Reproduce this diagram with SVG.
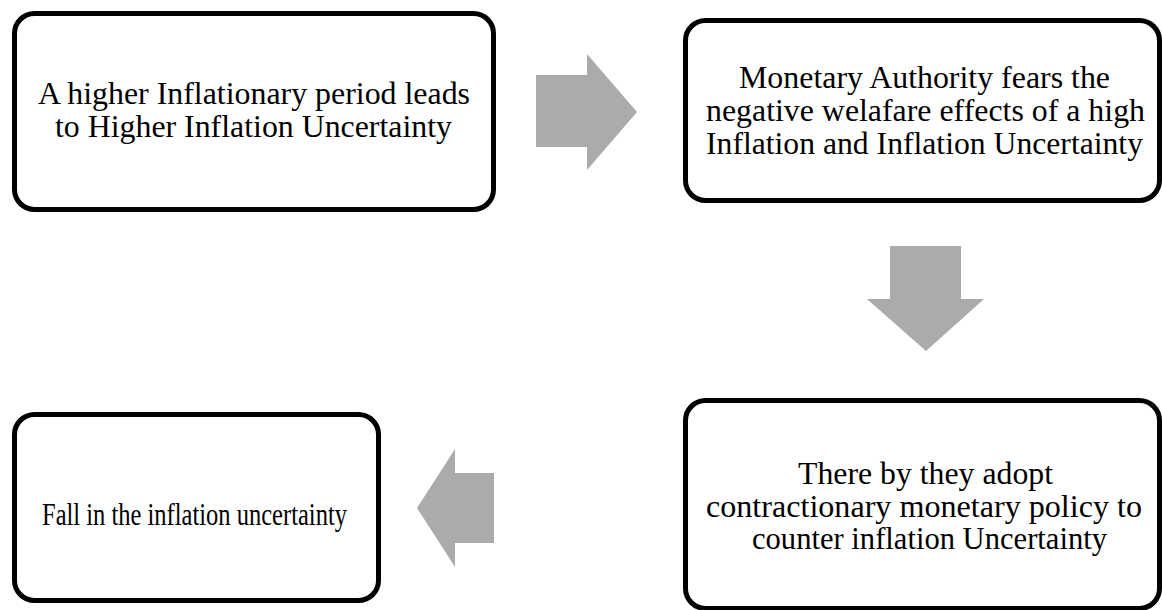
<svg xmlns="http://www.w3.org/2000/svg" width="1162" height="610" viewBox="0 0 1162 610">
  <style>
    .box { fill: #ffffff; stroke: #000000; stroke-width: 5; }
    .lbl { font-family: "Liberation Serif", "Times New Roman", serif; font-size: 31px; fill: #000000; text-anchor: middle; }
    .arrow { fill: #ababab; }
  </style>
  <rect width="1162" height="610" fill="#ffffff"/>

  <g id="connectors">
    <!-- right: step 1 to step 2 -->
    <polygon class="arrow" points="536,75 587,75 587,54 637,112 587,170 587,147 536,147"/>
    <!-- down: step 2 to step 3 -->
    <polygon class="arrow" points="890,246 961,246 961,299 984,299 926,351 867,299 890,299"/>
    <!-- left: step 3 to step 4 -->
    <polygon class="arrow" points="494,473 455,473 455,449 417,508 455,567 455,543 494,543"/>
  </g>

  <g id="step1">
    <rect class="box" x="14.5" y="13.5" width="479" height="196" rx="20" ry="20"/>
    <text class="lbl" x="254" y="104" textLength="432" lengthAdjust="spacingAndGlyphs">A higher Inflationary period leads</text>
    <text class="lbl" x="253.5" y="137" textLength="397" lengthAdjust="spacingAndGlyphs">to Higher Inflation Uncertainty</text>
  </g>

  <g id="step2">
    <rect class="box" x="685.5" y="20.5" width="474" height="180" rx="20" ry="20"/>
    <text class="lbl" x="924.5" y="88" textLength="371" lengthAdjust="spacingAndGlyphs">Monetary Authority fears the</text>
    <text class="lbl" x="925.5" y="121" textLength="439" lengthAdjust="spacingAndGlyphs">negative welafare effects of a high</text>
    <text class="lbl" x="924.5" y="154" textLength="437" lengthAdjust="spacingAndGlyphs">Inflation and Inflation Uncertainty</text>
  </g>

  <g id="step3">
    <rect class="box" x="685.5" y="400.5" width="474" height="208" rx="20" ry="20"/>
    <text class="lbl" x="925.5" y="484" textLength="255" lengthAdjust="spacingAndGlyphs">There by they adopt</text>
    <text class="lbl" x="924" y="517" textLength="436" lengthAdjust="spacingAndGlyphs">contractionary monetary policy to</text>
    <text class="lbl" x="929.5" y="549" textLength="355" lengthAdjust="spacingAndGlyphs">counter inflation Uncertainty</text>
  </g>

  <g id="step4">
    <rect class="box" x="14.5" y="414.5" width="364" height="186" rx="20" ry="20"/>
    <text class="lbl" x="194.5" y="525" textLength="305" lengthAdjust="spacingAndGlyphs">Fall in the inflation uncertainty</text>
  </g>
</svg>
